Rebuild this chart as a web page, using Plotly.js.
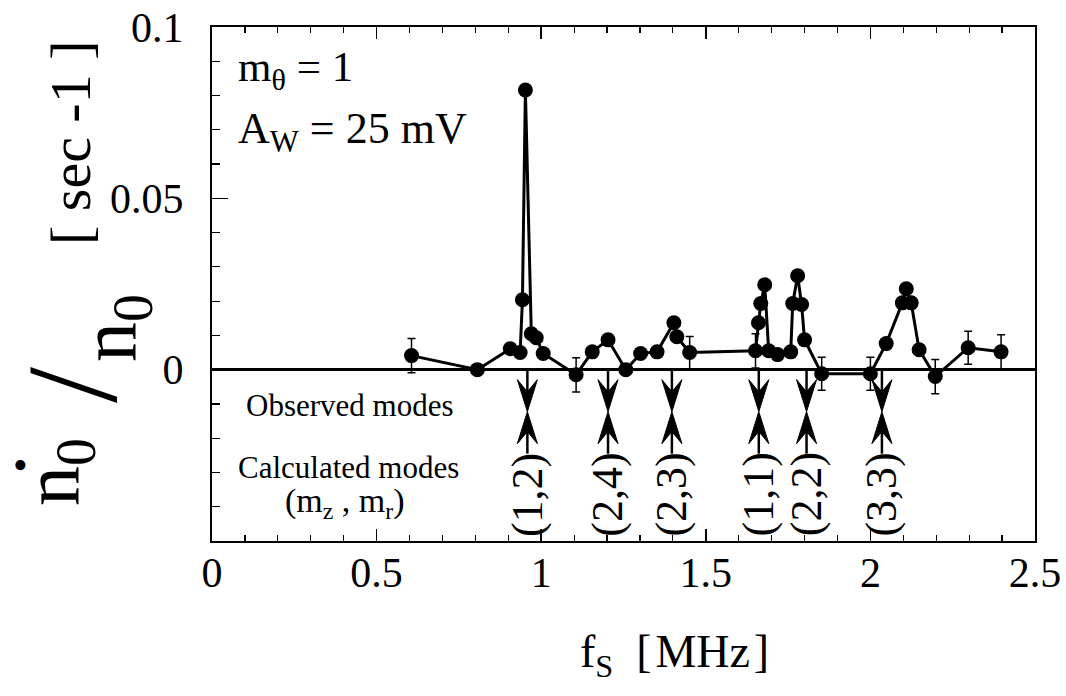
<!DOCTYPE html>
<html><head><meta charset="utf-8">
<script src="https://cdn.plot.ly/plotly-3.0.1.min.js"></script>
<style>html,body{margin:0;padding:0;background:#fff}#chart{width:1066px;height:696px}</style>
</head><body><div id="chart"></div>
<script>
// ---- data ----
const freqMHz = [0.606, 0.806, 0.906, 0.936, 0.943, 0.952, 0.970, 0.985, 1.006, 1.106, 1.155, 1.203, 1.257, 1.302, 1.352, 1.403, 1.412, 1.451, 1.651, 1.660, 1.667, 1.679, 1.691, 1.718, 1.758, 1.764, 1.779, 1.791, 1.800, 1.852, 2.000, 2.048, 2.097, 2.109, 2.124, 2.148, 2.197, 2.297, 2.397];
const rate    = [0.0041, 0.0000, 0.0061, 0.0050, 0.0204, 0.0816, 0.0105, 0.0093, 0.0047, -0.0015, 0.0052, 0.0087, 0.0000, 0.0047, 0.0052, 0.0137, 0.0096, 0.0050, 0.0055, 0.0137, 0.0193, 0.0248, 0.0055, 0.0044, 0.0052, 0.0193, 0.0274, 0.0190, 0.0087, -0.0012, -0.0012, 0.0076, 0.0195, 0.0236, 0.0195, 0.0058, -0.0020, 0.0064, 0.0052];
const rateErr = [0.0050, NaN, NaN, NaN, NaN, NaN, NaN, NaN, NaN, 0.0050, NaN, NaN, NaN, NaN, NaN, NaN, NaN, 0.0047, 0.0050, NaN, NaN, NaN, NaN, NaN, NaN, NaN, NaN, NaN, NaN, 0.0048, 0.0048, NaN, NaN, NaN, NaN, NaN, 0.0050, 0.0048, 0.0050];
const modeFreq   = [0.958, 1.203, 1.397, 1.661, 1.806, 2.035];
const modeLabels = ['(1,2)', '(2,4)', '(2,3)', '(1,1)', '(2,2)', '(3,3)'];
const yTickVals  = [0, 0.05, 0.1];
const yTickText  = ['0', '0.05', '0.1'];

// ---- layout constants ----
const FONT = 'Liberation Serif, Times New Roman, serif';
const M = {l: 212, r: 31, t: 27, b: 155};
const W = 1066, H = 696;
const PW = W - M.l - M.r, PH = H - M.t - M.b;
const XR = [0, 2.5], YR = [-0.05, 0.1];
const dX = (XR[1] - XR[0]) / PW;   // data units per pixel
const dY = (YR[1] - YR[0]) / PH;
const px = x => (x - M.l) / PW;     // page px -> paper
const py = y => 1 - (y - M.t) / PH;

// arrow geometry (pixels -> data)
const TIP = -42 * dY, HLEN = 32 * dY, HHW = 10 * dX, NOTCH = 0.62 * HLEN, STEMBOT = -84 * dY;
const shapes = [];
modeFreq.forEach(mx => {
  shapes.push({type: 'line', xref: 'x', yref: 'y', x0: mx, x1: mx, y0: 0, y1: TIP + NOTCH, line: {color: 'black', width: 2.5}});
  shapes.push({type: 'path', xref: 'x', yref: 'y', fillcolor: 'black', line: {color: 'black', width: 1},
    path: `M${mx},${TIP} L${mx - HHW},${TIP + HLEN} L${mx},${TIP + NOTCH} L${mx + HHW},${TIP + HLEN} Z`});
  shapes.push({type: 'line', xref: 'x', yref: 'y', x0: mx, x1: mx, y0: STEMBOT, y1: TIP - NOTCH, line: {color: 'black', width: 2.5}});
  shapes.push({type: 'path', xref: 'x', yref: 'y', fillcolor: 'black', line: {color: 'black', width: 1},
    path: `M${mx},${TIP} L${mx - HHW},${TIP - HLEN} L${mx},${TIP - NOTCH} L${mx + HHW},${TIP - HLEN} Z`});
});

const annotations = [];
modeFreq.forEach((mx, i) => {
  annotations.push({x: mx, y: -125 * dY, xref: 'x', yref: 'y', text: modeLabels[i], textangle: -90,
    showarrow: false, xanchor: 'center', yanchor: 'middle', font: {family: FONT, size: 44, color: 'black'}});
});
const txt = (text, x, y, size, opts) => Object.assign({text, x: px(x), y: py(y), xref: 'paper', yref: 'paper',
  showarrow: false, xanchor: 'center', yanchor: 'middle', font: {family: FONT, size, color: 'black'}}, opts || {});
annotations.push(
  txt('m<sub>θ</sub> = 1', 236, 70, 43, {xanchor: 'left'}),
  txt('A<sub>W</sub> = 25 mV', 236, 132, 44, {xanchor: 'left'}),
  txt('Observed modes', 349, 405, 31),
  txt('Calculated modes', 348, 467, 31),
  txt('(m<sub>z</sub> , m<sub>r</sub>)', 345, 503, 34),
  txt('f<sub>S</sub>\u00a0\u00a0[\u200aMHz\u200a]', 674, 655, 46),
  txt('[ sec -1 ]', 70, 143, 58, {textangle: -90}),
  txt('n<sub>0</sub>', 57, 472, 80, {textangle: -90}),
  txt('•', 20, 465, 42),
  txt('/', 72, 385, 130, {textangle: -90}),
  txt('n<sub>0</sub>', 114, 328, 80, {textangle: -90})
);

const traces = [{
  x: freqMHz, y: rate, type: 'scatter', mode: 'lines+markers',
  line: {color: 'black', width: 3},
  marker: {color: 'black', size: 15},
  error_y: {type: 'data', array: rateErr, visible: true, color: 'black', thickness: 1.5, width: 4},
  hoverinfo: 'x+y'
}];

const layout = {
  width: W, height: H, margin: M, showlegend: false,
  paper_bgcolor: 'white', plot_bgcolor: 'white',
  font: {family: FONT, color: 'black'},
  xaxis: {range: XR, dtick: 0.5, tick0: 0, ticks: 'inside', ticklen: 12, tickwidth: 1.5, tickcolor: 'black',
    showline: true, linecolor: 'black', linewidth: 2, mirror: 'ticks', showgrid: false, zeroline: false,
    tickfont: {family: FONT, size: 42, color: 'black'}, ticklabelstandoff: -6,
    minor: {dtick: 0.1, tick0: 0, ticks: 'inside', ticklen: 6, tickwidth: 1.2, tickcolor: 'black', showgrid: false}},
  yaxis: {range: YR, tickmode: 'array', tickvals: yTickVals, ticktext: yTickText, ticks: 'inside', ticklen: 16,
    tickwidth: 1.5, tickcolor: 'black', showline: true, linecolor: 'black', linewidth: 2, mirror: true,
    showgrid: false, zeroline: true, zerolinecolor: 'black', zerolinewidth: 2.5,
    tickfont: {family: FONT, size: 42, color: 'black'}, ticklabelstandoff: 18,
    minor: {tickmode: 'linear', dtick: 0.01, tick0: 0, ticks: 'inside', ticklen: 8, tickwidth: 1.2, tickcolor: 'black', showgrid: false}},
  shapes, annotations
};
Plotly.newPlot('chart', traces, layout, {staticPlot: true, displayModeBar: false});
</script></body></html>
